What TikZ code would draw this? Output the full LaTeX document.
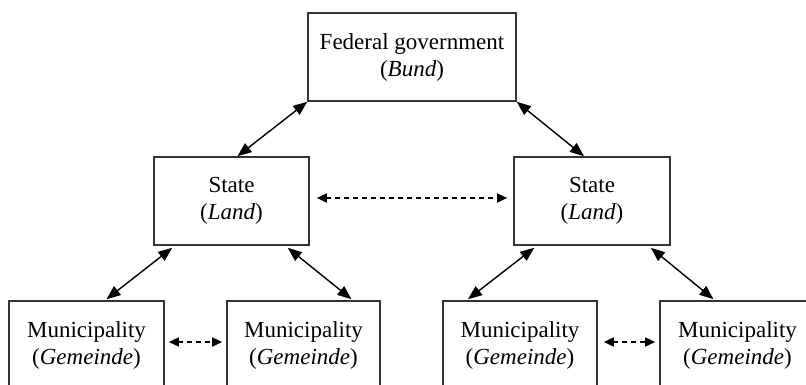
\documentclass[tikz,border=0pt]{standalone}
\usepackage{fontspec}
\setmainfont{Liberation Serif}
\usetikzlibrary{arrows.meta}

\tikzset{
  unit/.style={draw=black!80, line width=1.6pt, fill=white, inner sep=0pt,
    align=center, minimum height=88pt, font=\fontsize{23}{27}\selectfont},
  link/.style={line width=1.4pt, {Triangle[length=14pt,width=11pt]}-{Triangle[length=14pt,width=11pt]}},
  peer/.style={line width=1.4pt, dash pattern=on 5pt off 4pt,
    {Triangle[length=10pt,width=9pt]}-{Triangle[length=10pt,width=9pt]}}
}

\begin{document}
\begin{tikzpicture}[x=1pt, y=-1pt]
  \useasboundingbox (0,0) rectangle (806,384);
  \clip (0,0) rectangle (806,384);

  % federal level
  \node[unit, minimum width=208pt] (bund) at (412,57) {Federal government\\(\textit{Bund})};

  % states
  \node[unit, minimum width=155pt] (landL) at (231.5,201) {State\\(\textit{Land})};
  \node[unit, minimum width=156pt] (landR) at (592,201) {State\\(\textit{Land})};

  % municipalities
  \node[unit, minimum width=155pt] (gem1) at (86.5,345) {Municipality\\(\textit{Gemeinde})};
  \node[unit, minimum width=153pt] (gem2) at (303.5,345) {Municipality\\(\textit{Gemeinde})};
  \node[unit, minimum width=154pt] (gem3) at (520,345) {Municipality\\(\textit{Gemeinde})};
  \node[unit, minimum width=155pt] (gem4) at (737.5,345) {Municipality\\(\textit{Gemeinde})};

  % federal <-> states
  \draw[link] (bund.south west) -- ([xshift=6pt]landL.north);
  \draw[link] (bund.south east) -- ([xshift=-8pt]landR.north);

  % states <-> municipalities
  \draw[link] ([xshift=19pt,yshift=-2pt]landL.south west) -- ([xshift=20pt,yshift=1pt]gem1.north);
  \draw[link] ([xshift=-22pt,yshift=-2pt]landL.south east) -- ([xshift=48pt,yshift=1pt]gem2.north);
  \draw[link] ([xshift=21pt,yshift=-2pt]landR.south west) -- ([xshift=-52pt,yshift=1pt]gem3.north);
  \draw[link] ([xshift=-20pt,yshift=-2pt]landR.south east) -- ([xshift=-24pt,yshift=1pt]gem4.north);

  % horizontal cooperation
  \draw[peer] ([xshift=7pt,yshift=3pt]landL.east) -- ([xshift=-6pt,yshift=3pt]landR.west);
  \draw[peer] ([xshift=4pt,yshift=3pt]gem1.east) -- ([xshift=-4pt,yshift=3pt]gem2.west);
  \draw[peer] ([xshift=6pt,yshift=3pt]gem3.east) -- ([xshift=-4pt,yshift=3pt]gem4.west);
\end{tikzpicture}
\end{document}
